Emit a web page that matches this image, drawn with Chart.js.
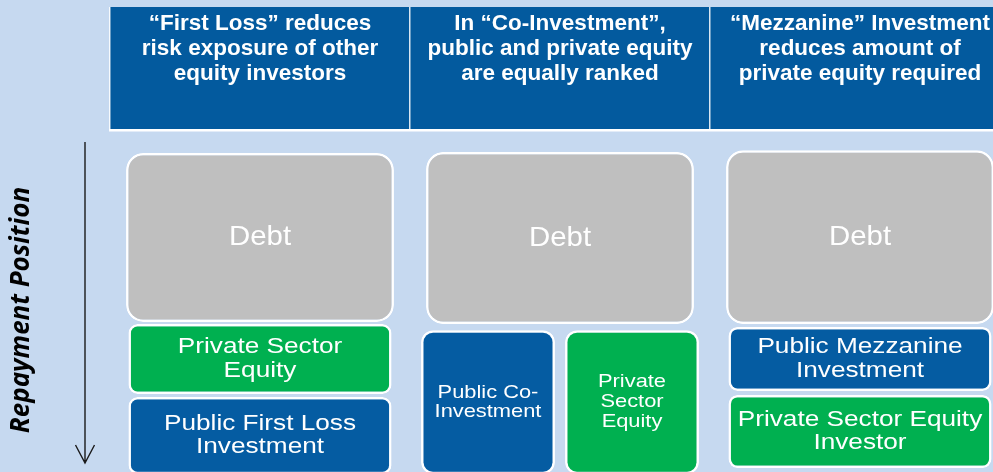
<!DOCTYPE html>
<html>
<head>
<meta charset="utf-8">
<script src="https://cdn.jsdelivr.net/npm/chart.js@4"></script>
<style>
  html, body { margin: 0; padding: 0; overflow: hidden; background: #c6d9f0; }
  canvas { display: block; }
</style>
</head>
<body>
<canvas id="repayChart" width="1010" height="490"></canvas>
<script>
// header text of each column (one line per entry)
const headers = [
  ['\u201CFirst Loss\u201D reduces', 'risk exposure of other', 'equity investors'],
  ['In \u201CCo-Investment\u201D,', 'public and private equity', 'are equally ranked'],
  ['\u201CMezzanine\u201D Investment', 'reduces amount of', 'private equity required']
];

// repayment position ranges, 0 = top of the stack, 100 = bottom
const debtRange      = [[6.4, 53.3], [6.1, 53.9], [5.6, 53.9]];
const privateRange   = [[53.9, 73.3], null, [73.6, 93.9]];
const publicRange    = [[74.2, 95.6], null, [54.7, 72.5]];
const coPublicRange  = [null, [55.6, 95.6], null];
const coPrivateRange = [null, [55.6, 95.6], null];

// texts inside the boxes
const debtText      = ['Debt', 'Debt', 'Debt'];
const privateText   = [['Private Sector', 'Equity'], null, ['Private Sector Equity', 'Investor']];
const publicText    = [['Public First Loss', 'Investment'], null, ['Public Mezzanine', 'Investment']];
const coPublicText  = [null, ['Public Co-', 'Investment'], null];
const coPrivateText = [null, ['Private', 'Sector', 'Equity'], null];

const GRAY = '#bfbfbf', GREEN = '#00b050', BLUE = '#055ca2', HEAD = '#035a9e';

// writes the text of each box in the middle of its bar
const boxLabels = {
  id: 'boxLabels',
  afterDatasetsDraw(chart) {
    const ctx = chart.ctx;
    chart.data.datasets.forEach((ds, i) => {
      const meta = chart.getDatasetMeta(i);
      meta.data.forEach((bar, j) => {
        if (ds.data[j] == null || !ds.texts[j]) return;
        const p = bar.getProps(['x', 'y', 'base'], true);
        const lines = [].concat(ds.texts[j]);
        ctx.save();
        ctx.fillStyle = '#ffffff';
        ctx.font = ds.textSize + 'px "Liberation Sans", Arial, sans-serif';
        ctx.textAlign = 'center';
        ctx.textBaseline = 'middle';
        ctx.translate(p.x, (p.y + p.base) / 2);
        ctx.scale(ds.textStretch, 1);
        lines.forEach((l, k) => {
          ctx.fillText(l, 0, (k - (lines.length - 1) / 2) * ds.textLead);
        });
        ctx.restore();
      });
    });
  }
};

// downward arrow next to the axis title
const repayArrow = {
  id: 'repayArrow',
  afterDraw(chart) {
    const y = chart.scales.y, ctx = chart.ctx;
    const x = y.right - 25;
    const top = y.getPixelForValue(3.3), tip = y.getPixelForValue(92.5);
    ctx.save();
    ctx.strokeStyle = '#1a1a1a';
    ctx.lineWidth = 1.4;
    ctx.beginPath();
    ctx.moveTo(x, top);
    ctx.lineTo(x, tip);
    ctx.moveTo(x - 9.5, tip - 18);
    ctx.lineTo(x, tip);
    ctx.lineTo(x + 9.5, tip - 18);
    ctx.stroke();
    ctx.restore();
  }
};

const ctx = document.getElementById('repayChart').getContext('2d');
const myChart = new Chart(ctx, {
  type: 'bar',
  data: {
    labels: headers,
    datasets: [
      {
        label: 'Debt', data: debtRange, texts: debtText,
        backgroundColor: GRAY, borderColor: '#ffffff', borderWidth: 2.5,
        borderRadius: 17, borderSkipped: false,
        grouped: false, categoryPercentage: 1, barPercentage: 0.893,
        textSize: 28, textStretch: 1.05, textLead: 30
      },
      {
        label: 'Private equity', data: privateRange, texts: privateText,
        backgroundColor: GREEN, borderColor: '#ffffff', borderWidth: 2.5,
        borderRadius: 9, borderSkipped: false,
        grouped: false, categoryPercentage: 1, barPercentage: 0.877,
        textSize: 22, textStretch: 1.19, textLead: 23.5
      },
      {
        label: 'Public', data: publicRange, texts: publicText,
        backgroundColor: BLUE, borderColor: '#ffffff', borderWidth: 2.5,
        borderRadius: 9, borderSkipped: false,
        grouped: false, categoryPercentage: 1, barPercentage: 0.877,
        textSize: 22, textStretch: 1.19, textLead: 23.5
      },
      {
        label: 'Public Co-Investment', data: coPublicRange, texts: coPublicText,
        stack: 'left', skipNull: true,
        backgroundColor: BLUE, borderColor: '#ffffff', borderWidth: 2.5,
        borderRadius: 12, borderSkipped: false,
        categoryPercentage: 0.96, barPercentage: 0.93,
        textSize: 19, textStretch: 1.15, textLead: 19.5
      },
      {
        label: 'Private Sector Equity', data: coPrivateRange, texts: coPrivateText,
        stack: 'right', skipNull: true,
        backgroundColor: GREEN, borderColor: '#ffffff', borderWidth: 2.5,
        borderRadius: 12, borderSkipped: false,
        categoryPercentage: 0.96, barPercentage: 0.93,
        textSize: 19, textStretch: 1.15, textLead: 20
      }
    ]
  },
  options: {
    responsive: false,
    animation: false,
    events: [],
    layout: { padding: { top: 7, left: 0, right: 0, bottom: 0 } },
    plugins: {
      legend: { display: false },
      tooltip: { enabled: false }
    },
    scales: {
      x: {
        type: 'category',
        position: 'top',
        offset: true,
        backgroundColor: HEAD,
        border: { display: true, color: '#ffffff', width: 2.5 },
        grid: {
          offset: true,
          drawOnChartArea: false,
          drawTicks: true,
          tickLength: 123,
          color: 'rgba(255,255,255,0.85)',
          lineWidth: 1.5
        },
        ticks: {
          color: '#ffffff',
          padding: -80,
          autoSkip: false,
          maxRotation: 0,
          font: { family: '"Liberation Sans", Arial, sans-serif', size: 22.5, weight: 'bold', lineHeight: 1.13 }
        },
        afterFit: (scale) => { scale.height = 123; }
      },
      y: {
        type: 'linear',
        reverse: true,
        min: 0,
        max: 100,
        stacked: false,
        grid: { display: false },
        border: { display: false },
        ticks: { display: false },
        title: {
          display: true,
          text: 'Repayment Position',
          color: '#000000',
          padding: { top: 6, bottom: 0 },
          font: { family: '"Open Sans", sans-serif', size: 26, style: 'italic', weight: 'bold', lineHeight: 1.2 }
        },
        afterFit: (scale) => { scale.width = 110; }
      }
    }
  },
  plugins: [boxLabels, repayArrow]
});
</script>
</body>
</html>
